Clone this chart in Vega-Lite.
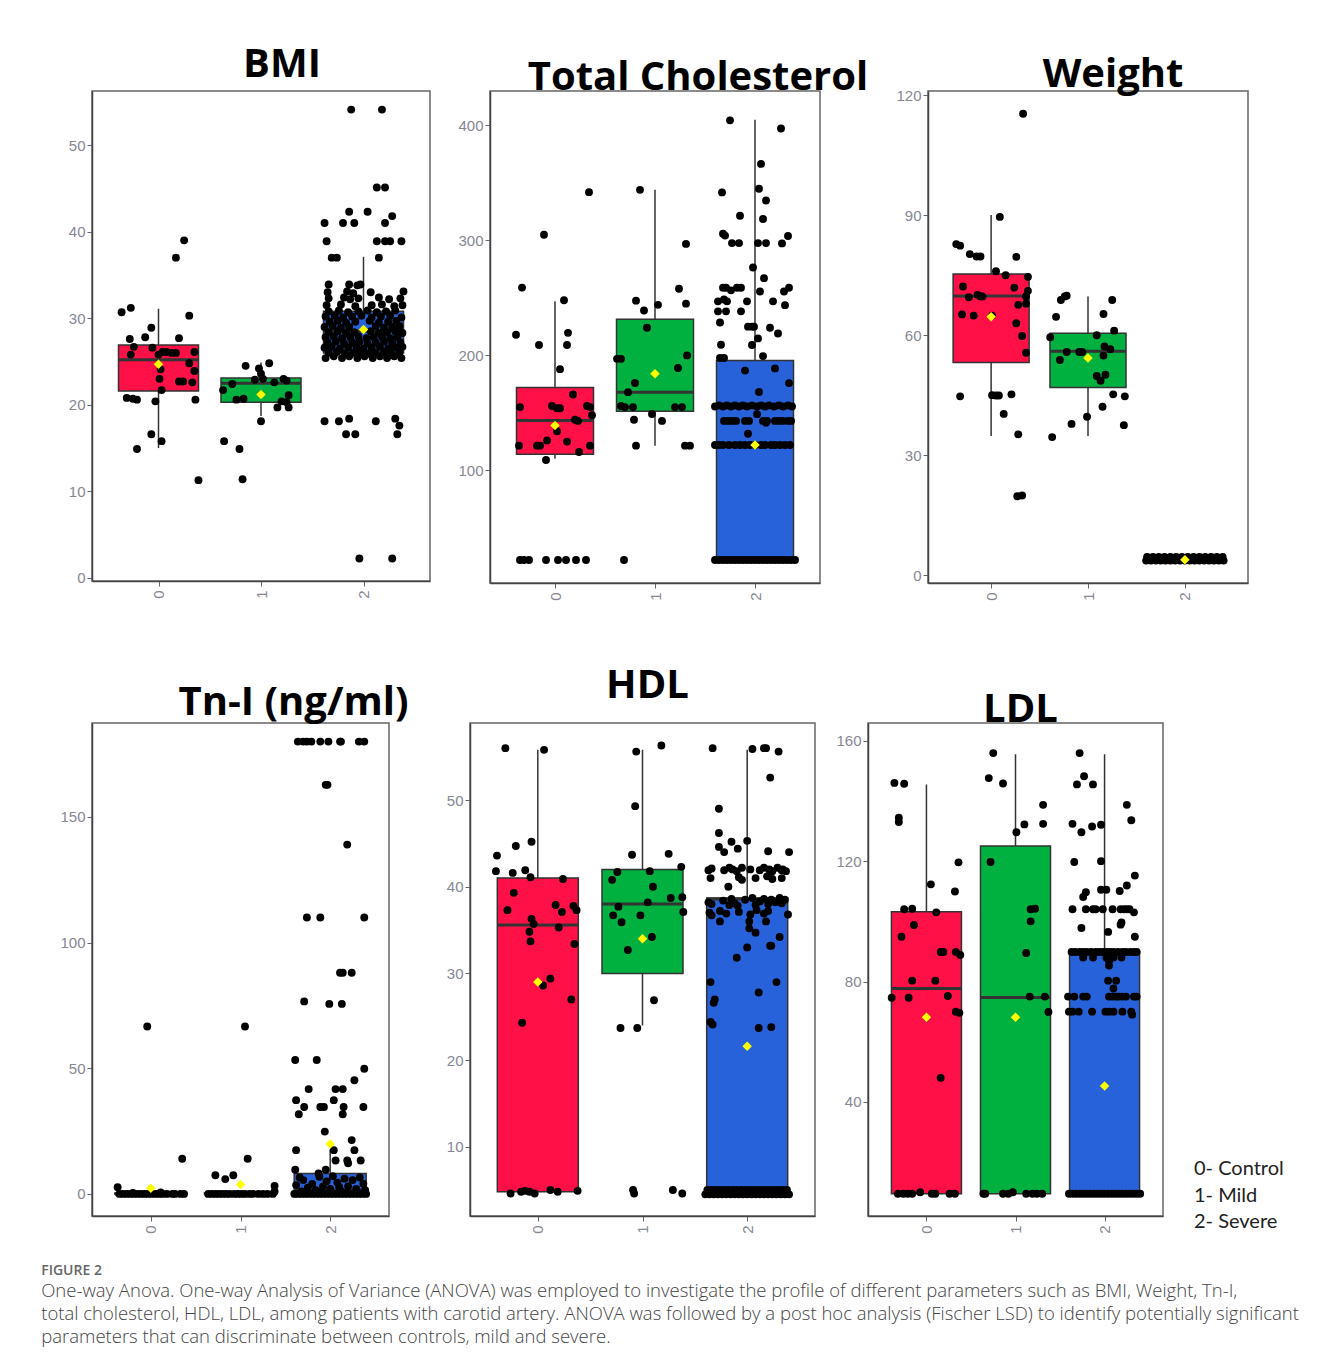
{
"$schema": "https://vega.github.io/schema/vega-lite/v6.json",
"background": "white",
"padding": {"left": 41, "top": 44, "right": 5, "bottom": 5},
"config": {
 "font": "Open Sans",
 "view": {"stroke": "#666", "strokeWidth": 1.5},
 "axis": {"grid": false, "labelFont": "Liberation Sans", "labelFontSize": 15, "labelColor": "#868792", "tickColor": "#666", "tickSize": 5, "domainColor": "#444", "domainWidth": 1.5, "labelPadding": 2},
 "axisX": {"labelAngle": -90, "labelPadding": 4, "format": "d"},
 "title": {"font": "Open Sans", "fontSize": 40, "fontWeight": "bold", "color": "#000", "anchor": "middle"}
},
"title": {"text": "FIGURE 2", "subtitle": ["One-way Anova. One-way Analysis of Variance (ANOVA) was employed to investigate the profile of different parameters such as BMI, Weight, Tn-I,", "total cholesterol, HDL, LDL, among patients with carotid artery. ANOVA was followed by a post hoc analysis (Fischer LSD) to identify potentially significant", "parameters that can discriminate between controls, mild and severe."], "orient": "bottom", "anchor": "start", "font": "Open Sans", "fontSize": 14, "fontWeight": 600, "color": "#666", "subtitleFont": "Open Sans", "subtitleFontSize": 18.5, "subtitleFontWeight": 300, "subtitleColor": "#444", "subtitleLineHeight": 23, "subtitlePadding": 4, "offset": 30, "dx": -18},
"datasets": {
 "bmiB": [{"g":0,"lo":15.0,"q1":21.6,"med":25.2,"q3":26.9,"hi":31.1,"m":24.7},{"g":1,"lo":18.7,"q1":20.3,"med":22.5,"q3":23.1,"hi":24.9,"m":21.2},{"g":2,"lo":25.4,"q1":26.0,"med":28.5,"q3":30.8,"hi":37.1,"m":28.7}],
 "bmiP": [
  {"x":-0.36,"v":30.7},{"x":-0.27,"v":31.2},{"x":-0.28,"v":27.6},{"x":-0.24,"v":26.7},{"x":-0.27,"v":25.8},{"x":-0.13,"v":27.8},{"x":-0.07,"v":28.9},{"x":-0.06,"v":26.6},{"x":0.0,"v":25.8},{"x":0.04,"v":26.1},{"x":0.08,"v":26.1},{"x":0.13,"v":26.0},{"x":0.17,"v":26.0},{"x":0.02,"v":24.1},{"x":0.01,"v":23.0},{"x":0.03,"v":21.7},{"x":0.3,"v":30.3},{"x":0.2,"v":27.7},{"x":0.35,"v":26.1},{"x":0.3,"v":24.8},{"x":0.35,"v":23.9},{"x":0.2,"v":22.7},{"x":0.24,"v":22.7},{"x":0.33,"v":22.6},{"x":-0.31,"v":20.8},{"x":-0.25,"v":20.7},{"x":-0.21,"v":20.6},{"x":-0.03,"v":20.4},{"x":0.36,"v":20.6},{"x":0.17,"v":37.0},{"x":0.25,"v":39.0},{"x":-0.07,"v":16.6},{"x":0.03,"v":15.8},{"x":-0.21,"v":14.9},{"x":0.39,"v":11.3},
  {"x":0.85,"v":24.5},{"x":0.98,"v":24.2},{"x":1.08,"v":24.8},{"x":1.0,"v":23.6},{"x":0.94,"v":22.9},{"x":1.02,"v":23.0},{"x":1.13,"v":22.6},{"x":1.22,"v":23.0},{"x":1.25,"v":22.8},{"x":0.72,"v":22.4},{"x":0.63,"v":21.7},{"x":1.27,"v":21.1},{"x":1.2,"v":20.4},{"x":1.25,"v":20.3},{"x":0.76,"v":20.6},{"x":0.83,"v":20.7},{"x":1.16,"v":19.7},{"x":1.27,"v":19.7},{"x":1.0,"v":18.1},{"x":0.64,"v":15.8},{"x":0.79,"v":14.9},{"x":0.82,"v":11.4},
  {"x":1.88,"v":54.1},{"x":2.18,"v":54.1},{"x":2.13,"v":45.1},{"x":2.21,"v":45.1},{"x":1.86,"v":42.3},{"x":2.04,"v":42.3},{"x":1.8,"v":41.0},{"x":1.91,"v":41.0},{"x":1.62,"v":41.0},{"x":2.21,"v":41.0},{"x":2.28,"v":41.8},{"x":1.64,"v":38.9},{"x":2.13,"v":38.9},{"x":2.21,"v":38.9},{"x":2.26,"v":38.9},{"x":2.37,"v":38.9},{"x":1.69,"v":37.0},{"x":1.74,"v":37.0},{"x":2.15,"v":37.0},{"x":1.62,"v":18.1},{"x":1.76,"v":18.1},{"x":1.86,"v":18.4},{"x":2.12,"v":18.1},{"x":2.31,"v":18.4},{"x":2.35,"v":17.6},{"x":1.83,"v":16.6},{"x":1.92,"v":16.6},{"x":2.33,"v":16.6},{"x":1.96,"v":2.25},{"x":2.28,"v":2.25},
  {"x":1.63,"v":25.4},{"x":1.71,"v":25.6},{"x":1.79,"v":25.4},{"x":1.86,"v":25.6},{"x":1.94,"v":25.4},{"x":2.01,"v":25.6},{"x":2.09,"v":25.4},{"x":2.16,"v":25.6},{"x":2.23,"v":25.4},{"x":2.3,"v":25.6},{"x":2.37,"v":25.4},
  {"x":1.66,"v":26.0},{"x":1.74,"v":26.1},{"x":1.82,"v":25.9},{"x":1.9,"v":26.0},{"x":1.97,"v":26.1},{"x":2.05,"v":25.9},{"x":2.12,"v":26.0},{"x":2.2,"v":26.1},{"x":2.27,"v":25.9},{"x":2.35,"v":26.0},
  {"x":1.62,"v":26.6},{"x":1.69,"v":26.7},{"x":1.77,"v":26.5},{"x":1.85,"v":26.6},{"x":1.93,"v":26.7},{"x":2.0,"v":26.5},{"x":2.08,"v":26.6},{"x":2.16,"v":26.7},{"x":2.24,"v":26.5},{"x":2.31,"v":26.6},{"x":2.38,"v":26.7},
  {"x":1.65,"v":27.2},{"x":1.73,"v":27.3},{"x":1.81,"v":27.1},{"x":1.89,"v":27.2},{"x":1.96,"v":27.3},{"x":2.04,"v":27.1},{"x":2.12,"v":27.2},{"x":2.2,"v":27.3},{"x":2.28,"v":27.1},{"x":2.36,"v":27.2},
  {"x":1.63,"v":27.8},{"x":1.71,"v":27.9},{"x":1.79,"v":27.7},{"x":1.87,"v":27.8},{"x":1.95,"v":27.9},{"x":2.03,"v":27.7},{"x":2.1,"v":27.8},{"x":2.18,"v":27.9},{"x":2.26,"v":27.7},{"x":2.33,"v":27.8},
  {"x":1.66,"v":28.4},{"x":1.75,"v":28.5},{"x":1.83,"v":28.3},{"x":1.91,"v":28.4},{"x":2.07,"v":28.5},{"x":2.15,"v":28.3},{"x":2.23,"v":28.4},{"x":2.31,"v":28.5},{"x":2.38,"v":28.3},
  {"x":1.62,"v":29.0},{"x":1.7,"v":29.1},{"x":1.78,"v":28.9},{"x":1.86,"v":29.0},{"x":2.12,"v":29.1},{"x":2.2,"v":28.9},{"x":2.28,"v":29.0},{"x":2.35,"v":29.1},
  {"x":1.67,"v":29.6},{"x":1.75,"v":29.7},{"x":1.83,"v":29.5},{"x":1.92,"v":29.6},{"x":2.06,"v":29.7},{"x":2.15,"v":29.5},{"x":2.24,"v":29.6},{"x":2.32,"v":29.7},
  {"x":1.63,"v":30.2},{"x":1.72,"v":30.3},{"x":1.8,"v":30.1},{"x":1.89,"v":30.2},{"x":1.98,"v":30.3},{"x":2.08,"v":30.1},{"x":2.17,"v":30.2},{"x":2.26,"v":30.3},{"x":2.37,"v":30.1},
  {"x":1.66,"v":30.8},{"x":1.76,"v":30.9},{"x":1.85,"v":30.7},{"x":1.95,"v":30.8},{"x":2.04,"v":30.9},{"x":2.13,"v":30.7},{"x":2.22,"v":30.8},{"x":2.31,"v":30.9},
  {"x":1.64,"v":31.5},{"x":1.78,"v":31.6},{"x":1.92,"v":31.4},{"x":2.08,"v":31.5},{"x":2.18,"v":31.6},{"x":2.3,"v":31.4},{"x":2.38,"v":31.5},
  {"x":1.66,"v":32.3},{"x":1.81,"v":32.4},{"x":1.87,"v":32.2},{"x":1.95,"v":32.3},{"x":2.15,"v":32.4},{"x":2.25,"v":32.2},{"x":2.36,"v":32.3},
  {"x":1.65,"v":33.0},{"x":1.84,"v":33.1},{"x":1.9,"v":32.9},{"x":2.07,"v":33.0},{"x":2.39,"v":33.1},
  {"x":1.66,"v":33.9},{"x":1.86,"v":33.9},{"x":1.94,"v":33.8},{"x":1.97,"v":33.9}
 ],
 "tcB": [{"g":0,"lo":110,"q1":114,"med":143.4,"q3":172,"hi":247,"m":139},{"g":1,"lo":121.5,"q1":151.4,"med":168,"q3":231.5,"hi":344,"m":184},{"g":2,"lo":22,"q1":22,"med":122,"q3":195.5,"hi":405,"m":122}],
 "tcP": [
  {"x":0.34,"v":342},{"x":-0.11,"v":305},{"x":-0.33,"v":259},{"x":0.09,"v":248},{"x":-0.39,"v":218},{"x":0.13,"v":219.6},{"x":-0.16,"v":209},{"x":0.12,"v":209},{"x":0.05,"v":188},{"x":0.18,"v":166},{"x":-0.35,"v":155},{"x":-0.03,"v":156},{"x":0.02,"v":154},{"x":0.05,"v":154},{"x":0.32,"v":156},{"x":0.35,"v":155},{"x":0.37,"v":148},{"x":0.2,"v":144},{"x":0.23,"v":143},{"x":0.02,"v":134},{"x":0.12,"v":125},{"x":-0.08,"v":126},{"x":-0.36,"v":121.5},{"x":-0.18,"v":121.5},{"x":-0.15,"v":121.5},{"x":0.35,"v":121.5},{"x":0.24,"v":116},{"x":-0.09,"v":109},
  {"x":-0.35,"v":22},{"x":-0.31,"v":22},{"x":-0.26,"v":22},{"x":-0.09,"v":22},{"x":0.03,"v":22},{"x":0.11,"v":22},{"x":0.21,"v":22},{"x":0.31,"v":22},
  {"x":0.85,"v":344},{"x":1.31,"v":297},{"x":1.24,"v":258},{"x":1.31,"v":245},{"x":0.81,"v":247.6},{"x":0.89,"v":239},{"x":1.03,"v":244},{"x":0.92,"v":224},{"x":1.32,"v":200},{"x":0.62,"v":197},{"x":0.66,"v":197},{"x":1.23,"v":189},{"x":0.8,"v":176},{"x":0.73,"v":168},{"x":0.66,"v":156},{"x":0.7,"v":155},{"x":0.78,"v":155},{"x":1.2,"v":155},{"x":1.27,"v":155},{"x":0.79,"v":144},{"x":0.97,"v":149},{"x":1.07,"v":143},{"x":0.81,"v":121.5},{"x":1.3,"v":121.5},{"x":1.35,"v":121.5},{"x":0.69,"v":22},
  {"x":1.75,"v":404.5},{"x":2.26,"v":397.4},{"x":2.06,"v":366.6},{"x":2.04,"v":345},{"x":1.67,"v":341.8},{"x":2.11,"v":334.7},{"x":1.85,"v":321.5},{"x":2.08,"v":318.6},{"x":1.68,"v":305.8},{"x":1.7,"v":304.2},{"x":2.33,"v":303.9},{"x":1.77,"v":297.7},{"x":1.84,"v":297.7},{"x":2.03,"v":297.7},{"x":2.11,"v":297.7},{"x":2.27,"v":297.4},{"x":1.98,"v":276.5},{"x":2.09,"v":267.2},{"x":1.68,"v":258.8},{"x":1.71,"v":258.8},{"x":1.76,"v":256.6},{"x":1.82,"v":258.8},{"x":1.86,"v":258.8},{"x":2.05,"v":255.6},{"x":2.29,"v":255.6},{"x":2.34,"v":258.8},{"x":1.63,"v":247},{"x":1.69,"v":248.6},{"x":1.72,"v":247},{"x":1.92,"v":247},{"x":2.18,"v":247},{"x":2.3,"v":243.7},{"x":1.63,"v":238.3},{"x":1.71,"v":238.3},{"x":1.86,"v":238.3},{"x":1.65,"v":228.6},{"x":1.93,"v":225},{"x":1.97,"v":225},{"x":1.99,"v":225},{"x":2.15,"v":224},{"x":2.23,"v":219},{"x":2.03,"v":214.8},{"x":1.66,"v":209.3},{"x":1.97,"v":209},{"x":2.08,"v":199.4},{"x":1.65,"v":197.7},{"x":1.69,"v":197.7},{"x":1.9,"v":186.8},{"x":2.2,"v":188.7},{"x":2.04,"v":168.2},{"x":2.34,"v":175.9},{"x":1.93,"v":131.8},{"x":2.11,"v":141.5},{"x":2.02,"v":148.9},
  {"x":1.6,"v":155.5},{"x":1.64,"v":156.5},{"x":1.68,"v":155.5},{"x":1.72,"v":156.5},{"x":1.76,"v":155.5},{"x":1.8,"v":156.5},{"x":1.84,"v":155.5},{"x":1.88,"v":156.5},{"x":1.92,"v":155.5},{"x":1.97,"v":156.5},{"x":2.02,"v":155.5},{"x":2.06,"v":156.5},{"x":2.1,"v":155.5},{"x":2.14,"v":156.5},{"x":2.19,"v":155.5},{"x":2.24,"v":156.5},{"x":2.28,"v":155.5},{"x":2.33,"v":156.5},{"x":2.37,"v":155.5},
  {"x":1.69,"v":143},{"x":1.73,"v":143},{"x":1.77,"v":143},{"x":1.81,"v":143},{"x":1.9,"v":143},{"x":1.94,"v":143},{"x":2.08,"v":143},{"x":2.12,"v":143},{"x":2.2,"v":143},{"x":2.24,"v":143},{"x":2.28,"v":143},{"x":2.33,"v":143},{"x":2.36,"v":143},
  {"x":1.6,"v":122},{"x":1.64,"v":122},{"x":1.68,"v":122},{"x":1.74,"v":122},{"x":1.8,"v":122},{"x":1.85,"v":122},{"x":1.9,"v":122},{"x":1.95,"v":122},{"x":2.0,"v":122},{"x":2.06,"v":122},{"x":2.1,"v":122},{"x":2.16,"v":122},{"x":2.2,"v":122},{"x":2.25,"v":122},{"x":2.3,"v":122},{"x":2.35,"v":122},
  {"x":1.6,"v":22},{"x":1.64,"v":22},{"x":1.68,"v":22},{"x":1.72,"v":22},{"x":1.76,"v":22},{"x":1.8,"v":22},{"x":1.84,"v":22},{"x":1.88,"v":22},{"x":1.92,"v":22},{"x":1.96,"v":22},{"x":2.0,"v":22},{"x":2.04,"v":22},{"x":2.08,"v":22},{"x":2.12,"v":22},{"x":2.16,"v":22},{"x":2.2,"v":22},{"x":2.24,"v":22},{"x":2.28,"v":22},{"x":2.32,"v":22},{"x":2.36,"v":22},{"x":2.4,"v":22}
 ],
 "wB": [{"g":0,"lo":34.8,"q1":53.2,"med":69.8,"q3":75.3,"hi":90.1,"m":64.6},{"g":1,"lo":34.8,"q1":46.9,"med":56.0,"q3":60.5,"hi":69.7,"m":54.3},{"g":2,"lo":3.4,"q1":3.7,"med":4.0,"q3":4.2,"hi":4.6,"m":3.8}],
 "wP": [
  {"x":0.33,"v":115.4},{"x":0.09,"v":89.6},{"x":-0.36,"v":82.8},{"x":-0.32,"v":82.4},{"x":-0.22,"v":80.3},{"x":-0.15,"v":79.7},{"x":-0.11,"v":79.7},{"x":0.26,"v":79.6},{"x":0.05,"v":76.0},{"x":0.15,"v":75.0},{"x":0.38,"v":74.6},{"x":0.38,"v":71.1},{"x":-0.29,"v":72.2},{"x":0.24,"v":71.9},{"x":-0.23,"v":69.5},{"x":-0.14,"v":70.1},{"x":-0.11,"v":69.7},{"x":-0.09,"v":69.7},{"x":0.36,"v":69.7},{"x":-0.3,"v":65.2},{"x":-0.18,"v":64.9},{"x":0.01,"v":64.9},{"x":0.28,"v":67.6},{"x":0.36,"v":67.9},{"x":0.26,"v":63.0},{"x":0.32,"v":59.8},{"x":0.36,"v":55.6},{"x":-0.32,"v":44.7},{"x":0.01,"v":45.0},{"x":0.05,"v":44.9},{"x":0.08,"v":44.9},{"x":0.21,"v":45.2},{"x":0.13,"v":40.3},{"x":0.28,"v":35.2},{"x":0.27,"v":19.7},{"x":0.32,"v":19.9},
  {"x":0.72,"v":68.8},{"x":0.76,"v":69.7},{"x":0.78,"v":69.9},{"x":1.25,"v":68.8},{"x":0.67,"v":64.6},{"x":1.16,"v":65.3},{"x":0.61,"v":59.5},{"x":1.09,"v":60.0},{"x":1.27,"v":61.1},{"x":0.71,"v":53.8},{"x":0.78,"v":55.8},{"x":0.91,"v":55.8},{"x":0.94,"v":55.8},{"x":1.17,"v":57.2},{"x":1.16,"v":54.9},{"x":1.23,"v":56.5},{"x":1.09,"v":49.8},{"x":1.13,"v":48.6},{"x":1.18,"v":50.1},{"x":1.26,"v":45.2},{"x":1.38,"v":44.7},{"x":1.15,"v":42.1},{"x":0.99,"v":39.6},{"x":0.83,"v":37.8},{"x":1.37,"v":37.5},{"x":0.63,"v":34.5},
  {"x":1.6,"v":3.6},{"x":1.65,"v":3.6},{"x":1.7,"v":3.6},{"x":1.75,"v":3.6},{"x":1.8,"v":3.6},{"x":1.85,"v":3.6},{"x":1.9,"v":3.6},{"x":1.95,"v":3.6},{"x":2.0,"v":3.6},{"x":2.05,"v":3.6},{"x":2.1,"v":3.6},{"x":2.15,"v":3.6},{"x":2.2,"v":3.6},{"x":2.25,"v":3.6},{"x":2.3,"v":3.6},{"x":2.35,"v":3.6},{"x":2.4,"v":3.6},
  {"x":1.62,"v":4.1},{"x":1.67,"v":4.1},{"x":1.72,"v":4.1},{"x":1.77,"v":4.1},{"x":1.82,"v":4.1},{"x":1.87,"v":4.1},{"x":1.92,"v":4.1},{"x":1.97,"v":4.1},{"x":2.02,"v":4.1},{"x":2.07,"v":4.1},{"x":2.12,"v":4.1},{"x":2.17,"v":4.1},{"x":2.22,"v":4.1},{"x":2.27,"v":4.1},{"x":2.32,"v":4.1},{"x":2.37,"v":4.1},
  {"x":1.61,"v":4.5},{"x":1.67,"v":4.5},{"x":1.73,"v":4.5},{"x":1.79,"v":4.5},{"x":1.85,"v":4.5},{"x":1.91,"v":4.5},{"x":1.97,"v":4.5},{"x":2.03,"v":4.5},{"x":2.09,"v":4.5},{"x":2.15,"v":4.5},{"x":2.21,"v":4.5},{"x":2.27,"v":4.5},{"x":2.33,"v":4.5},{"x":2.39,"v":4.5}
 ],
 "tB": [{"g":0,"lo":0,"q1":0,"med":0,"q3":0.4,"hi":0.8,"m":2.2},{"g":1,"lo":0,"q1":0,"med":0,"q3":0.5,"hi":1.0,"m":3.7},{"g":2,"lo":0,"q1":0,"med":1.5,"q3":8.1,"hi":17.7,"m":19.9}],
 "tP": [
  {"x":-0.04,"v":66.6},{"x":0.35,"v":14},{"x":-0.37,"v":2.65},{"x":-0.35,"v":0},{"x":-0.31,"v":0},{"x":-0.27,"v":0},{"x":-0.23,"v":0},{"x":-0.19,"v":0},{"x":-0.15,"v":0},{"x":-0.11,"v":0},{"x":-0.07,"v":0},{"x":-0.03,"v":0},{"x":0.01,"v":0},{"x":0.05,"v":0},{"x":0.09,"v":0},{"x":0.13,"v":0},{"x":0.18,"v":0},{"x":0.24,"v":0},{"x":0.27,"v":0},{"x":0.33,"v":0},{"x":0.37,"v":0},{"x":0.11,"v":0.6},{"x":-0.2,"v":0.4},
  {"x":1.05,"v":66.6},{"x":1.08,"v":14},{"x":0.72,"v":7.4},{"x":0.83,"v":5.9},{"x":0.92,"v":7.4},{"x":1.38,"v":3.2},{"x":0.64,"v":0},{"x":0.68,"v":0},{"x":0.72,"v":0},{"x":0.76,"v":0},{"x":0.8,"v":0},{"x":0.84,"v":0},{"x":0.88,"v":0},{"x":0.93,"v":0},{"x":0.97,"v":0},{"x":1.01,"v":0},{"x":1.05,"v":0},{"x":1.1,"v":0},{"x":1.14,"v":0},{"x":1.2,"v":0},{"x":1.25,"v":0},{"x":1.3,"v":0},{"x":1.36,"v":0},{"x":1.38,"v":1.0},
  {"x":1.64,"v":180},{"x":1.7,"v":180},{"x":1.74,"v":180},{"x":1.79,"v":180},{"x":1.89,"v":180},{"x":1.98,"v":180},{"x":2.11,"v":180},{"x":2.12,"v":180},{"x":2.32,"v":180},{"x":2.38,"v":180},
  {"x":1.95,"v":162.8},{"x":1.97,"v":162.8},{"x":2.19,"v":139},{"x":1.74,"v":110},{"x":1.89,"v":110},{"x":2.38,"v":110},{"x":2.11,"v":88},{"x":2.14,"v":88},{"x":2.24,"v":88},{"x":1.71,"v":76.6},{"x":1.99,"v":75.6},{"x":2.13,"v":75.6},{"x":1.61,"v":53.3},{"x":1.85,"v":53.3},{"x":2.38,"v":49.8},{"x":2.27,"v":45.2},{"x":1.76,"v":41.7},{"x":2.06,"v":41.7},{"x":2.14,"v":41.7},{"x":1.62,"v":37.3},{"x":2.04,"v":37.3},{"x":1.71,"v":34.6},{"x":1.89,"v":34.6},{"x":1.93,"v":34.6},{"x":2.15,"v":34.6},{"x":2.37,"v":34.6},{"x":1.65,"v":31.7},{"x":2.14,"v":31.7},{"x":1.94,"v":24.8},{"x":2.24,"v":21.4},{"x":1.62,"v":17.4},{"x":2.04,"v":17.4},{"x":2.27,"v":17.4},{"x":2.06,"v":13.3},{"x":2.19,"v":13.3},{"x":2.2,"v":12.2},{"x":2.34,"v":13.3},{"x":1.61,"v":9.6},{"x":1.95,"v":9.6},{"x":1.87,"v":8.1},
  {"x":1.62,"v":3.5},{"x":1.66,"v":6.5},{"x":1.7,"v":5.5},{"x":1.75,"v":2.5},{"x":1.8,"v":4.0},{"x":1.84,"v":1.5},{"x":1.88,"v":6.8},{"x":1.92,"v":3.0},{"x":1.96,"v":5.0},{"x":2.0,"v":2.0},{"x":2.03,"v":7.0},{"x":2.08,"v":4.5},{"x":2.12,"v":1.2},{"x":2.16,"v":6.0},{"x":2.2,"v":3.0},{"x":2.25,"v":5.5},{"x":2.29,"v":2.0},{"x":2.33,"v":6.5},{"x":2.37,"v":4.0},{"x":2.39,"v":1.5},{"x":1.68,"v":1.0},{"x":1.9,"v":0.8},{"x":2.1,"v":2.8},{"x":2.3,"v":0.8},
  {"x":1.6,"v":0},{"x":1.64,"v":0},{"x":1.68,"v":0},{"x":1.72,"v":0},{"x":1.76,"v":0},{"x":1.8,"v":0},{"x":1.84,"v":0},{"x":1.88,"v":0},{"x":1.92,"v":0},{"x":1.96,"v":0},{"x":2.0,"v":0},{"x":2.04,"v":0},{"x":2.08,"v":0},{"x":2.12,"v":0},{"x":2.16,"v":0},{"x":2.2,"v":0},{"x":2.24,"v":0},{"x":2.28,"v":0},{"x":2.32,"v":0},{"x":2.36,"v":0},{"x":2.4,"v":0}
 ],
 "hB": [{"g":0,"lo":4.8,"q1":4.8,"med":35.6,"q3":41.0,"hi":55.8,"m":29.0},{"g":1,"lo":24.0,"q1":30.0,"med":38.0,"q3":42.0,"hi":55.8,"m":34.0},{"g":2,"lo":4.8,"q1":4.8,"med":38.6,"q3":38.7,"hi":55.8,"m":21.6}],
 "hP": [
  {"x":-0.31,"v":56.0},{"x":0.06,"v":55.8},{"x":-0.39,"v":43.6},{"x":-0.21,"v":44.7},{"x":-0.06,"v":45.2},{"x":-0.4,"v":41.8},{"x":-0.24,"v":41.6},{"x":-0.12,"v":41.9},{"x":-0.07,"v":41.1},{"x":0.24,"v":40.9},{"x":-0.23,"v":39.3},{"x":-0.29,"v":37.3},{"x":-0.06,"v":36.3},{"x":-0.04,"v":35.7},{"x":-0.08,"v":34.8},{"x":-0.07,"v":33.7},{"x":0.17,"v":37.9},{"x":0.23,"v":37.1},{"x":0.2,"v":35.3},{"x":0.34,"v":37.8},{"x":0.37,"v":37.3},{"x":0.35,"v":33.4},{"x":0.12,"v":29.4},{"x":0.05,"v":28.6},{"x":0.32,"v":27.0},{"x":-0.15,"v":24.3},
  {"x":-0.26,"v":4.6},{"x":-0.16,"v":4.8},{"x":-0.12,"v":4.9},{"x":-0.08,"v":4.8},{"x":-0.03,"v":4.6},{"x":0.12,"v":5.0},{"x":0.19,"v":4.8},{"x":0.38,"v":4.9},
  {"x":1.18,"v":56.3},{"x":0.94,"v":55.6},{"x":0.93,"v":49.3},{"x":0.9,"v":43.7},{"x":1.25,"v":43.8},{"x":0.76,"v":41.7},{"x":0.71,"v":40.8},{"x":1.07,"v":41.8},{"x":1.37,"v":42.3},{"x":1.1,"v":40.0},{"x":1.27,"v":38.7},{"x":1.38,"v":38.8},{"x":0.77,"v":37.7},{"x":1.05,"v":38.2},{"x":1.39,"v":37.1},{"x":0.72,"v":36.7},{"x":0.8,"v":35.9},{"x":0.98,"v":36.7},{"x":1.09,"v":34.2},{"x":0.86,"v":32.7},{"x":1.11,"v":26.9},{"x":0.79,"v":23.7},{"x":0.95,"v":23.7},{"x":0.91,"v":5.0},{"x":0.92,"v":4.6},{"x":1.29,"v":5.0},{"x":1.38,"v":4.6},
  {"x":1.67,"v":56.0},{"x":2.05,"v":55.9},{"x":2.16,"v":56.0},{"x":2.18,"v":56.0},{"x":2.3,"v":55.6},{"x":2.22,"v":52.6},{"x":1.73,"v":49.0},{"x":1.73,"v":46.2},{"x":1.73,"v":44.6},{"x":1.78,"v":44.0},{"x":1.85,"v":45.2},{"x":1.91,"v":44.4},{"x":2.0,"v":45.3},{"x":2.2,"v":44.1},{"x":2.4,"v":44.0},
  {"x":1.63,"v":41.9},{"x":1.66,"v":42.1},{"x":1.78,"v":41.9},{"x":1.83,"v":42.2},{"x":1.86,"v":42.0},{"x":1.9,"v":41.8},{"x":1.95,"v":42.2},{"x":2.03,"v":42.0},{"x":2.12,"v":41.9},{"x":2.16,"v":42.2},{"x":2.21,"v":42.0},{"x":2.24,"v":41.8},{"x":2.29,"v":42.2},{"x":2.33,"v":41.9},{"x":2.34,"v":42.0},{"x":2.37,"v":41.8},
  {"x":1.65,"v":41.0},{"x":1.92,"v":41.1},{"x":1.95,"v":40.8},{"x":2.08,"v":41.0},{"x":2.19,"v":41.2},{"x":2.24,"v":40.9},{"x":2.33,"v":41.0},{"x":1.82,"v":40.0},
  {"x":1.63,"v":38.2},{"x":1.66,"v":38.0},{"x":1.77,"v":38.4},{"x":1.83,"v":37.9},{"x":1.85,"v":38.6},{"x":1.88,"v":38.1},{"x":1.91,"v":37.8},{"x":1.98,"v":38.5},{"x":2.05,"v":38.7},{"x":2.08,"v":37.9},{"x":2.12,"v":38.3},{"x":2.16,"v":38.6},{"x":2.2,"v":38.0},{"x":2.23,"v":38.5},{"x":2.27,"v":38.2},{"x":2.31,"v":38.7},{"x":2.33,"v":38.1},{"x":2.36,"v":38.5},
  {"x":1.64,"v":37.0},{"x":1.66,"v":36.7},{"x":1.74,"v":37.2},{"x":1.8,"v":36.9},{"x":1.92,"v":37.1},{"x":2.03,"v":36.8},{"x":2.09,"v":37.3},{"x":2.16,"v":36.9},{"x":2.2,"v":37.2},{"x":2.39,"v":36.8},
  {"x":1.74,"v":36.0},{"x":2.02,"v":36.0},{"x":2.18,"v":36.0},{"x":2.02,"v":35.2},{"x":2.08,"v":34.7},{"x":2.31,"v":34.2},{"x":2.22,"v":33.2},{"x":2.23,"v":33.2},{"x":2.0,"v":33.0},{"x":1.9,"v":31.8},{"x":1.65,"v":29.0},{"x":2.28,"v":29.0},{"x":2.11,"v":27.8},{"x":1.69,"v":27.0},{"x":1.68,"v":26.6},{"x":1.65,"v":24.4},{"x":1.67,"v":24.1},{"x":2.11,"v":23.7},{"x":2.23,"v":23.8},
  {"x":1.6,"v":4.5},{"x":1.64,"v":4.5},{"x":1.68,"v":4.5},{"x":1.72,"v":4.5},{"x":1.76,"v":4.5},{"x":1.8,"v":4.5},{"x":1.84,"v":4.5},{"x":1.88,"v":4.5},{"x":1.92,"v":4.5},{"x":1.96,"v":4.5},{"x":2.0,"v":4.5},{"x":2.04,"v":4.5},{"x":2.08,"v":4.5},{"x":2.12,"v":4.5},{"x":2.16,"v":4.5},{"x":2.2,"v":4.5},{"x":2.24,"v":4.5},{"x":2.28,"v":4.5},{"x":2.32,"v":4.5},{"x":2.36,"v":4.5},{"x":2.4,"v":4.5},
  {"x":1.62,"v":5.0},{"x":1.66,"v":5.0},{"x":1.7,"v":5.0},{"x":1.74,"v":5.0},{"x":1.78,"v":5.0},{"x":1.82,"v":5.0},{"x":1.86,"v":5.0},{"x":1.9,"v":5.0},{"x":1.94,"v":5.0},{"x":1.98,"v":5.0},{"x":2.02,"v":5.0},{"x":2.06,"v":5.0},{"x":2.1,"v":5.0},{"x":2.14,"v":5.0},{"x":2.18,"v":5.0},{"x":2.22,"v":5.0},{"x":2.26,"v":5.0},{"x":2.3,"v":5.0},{"x":2.34,"v":5.0},{"x":2.38,"v":5.0}
 ],
 "lB": [{"g":0,"lo":9.5,"q1":9.5,"med":77.7,"q3":103.2,"hi":145.5,"m":68.1},{"g":1,"lo":9.5,"q1":9.5,"med":74.7,"q3":125,"hi":155.5,"m":68.1},{"g":2,"lo":9.5,"q1":9.5,"med":89.5,"q3":89.8,"hi":155.5,"m":45.3}],
 "lP": [
  {"x":-0.36,"v":146},{"x":-0.25,"v":145.7},{"x":-0.31,"v":134.4},{"x":-0.31,"v":133},{"x":0.36,"v":119.6},{"x":0.05,"v":112.3},{"x":0.32,"v":109.9},{"x":-0.25,"v":104},{"x":-0.16,"v":104.2},{"x":0.11,"v":103},{"x":-0.14,"v":98.8},{"x":-0.28,"v":94.9},{"x":0.16,"v":89.8},{"x":0.19,"v":89.8},{"x":0.33,"v":89.8},{"x":0.38,"v":88.8},{"x":-0.16,"v":80.3},{"x":0.1,"v":80.3},{"x":-0.39,"v":74.6},{"x":-0.2,"v":74.6},{"x":0.24,"v":75.2},{"x":0.33,"v":70},{"x":0.37,"v":69.6},{"x":0.16,"v":48},
  {"x":-0.32,"v":9.5},{"x":-0.26,"v":9.5},{"x":-0.21,"v":9.5},{"x":-0.16,"v":9.5},{"x":-0.07,"v":10},{"x":0.06,"v":9.5},{"x":0.1,"v":9.5},{"x":0.26,"v":9.5},{"x":0.32,"v":9.5},
  {"x":0.75,"v":155.9},{"x":0.7,"v":147.6},{"x":0.86,"v":145.8},{"x":1.31,"v":138.7},{"x":1.1,"v":132.2},{"x":1.31,"v":132.4},{"x":1.01,"v":129.6},{"x":0.72,"v":119.7},{"x":1.17,"v":104},{"x":1.22,"v":104.2},{"x":1.17,"v":100},{"x":1.12,"v":89.5},{"x":1.16,"v":75},{"x":1.33,"v":75},{"x":1.37,"v":69.9},
  {"x":0.64,"v":9.5},{"x":0.66,"v":9.5},{"x":0.86,"v":9.5},{"x":0.92,"v":9.5},{"x":0.97,"v":10},{"x":1.12,"v":9.5},{"x":1.19,"v":9.5},{"x":1.24,"v":9.5},{"x":1.3,"v":9.5},
  {"x":1.72,"v":155.9},{"x":1.77,"v":148.2},{"x":1.69,"v":145.5},{"x":1.87,"v":145.5},{"x":2.25,"v":138.7},{"x":2.3,"v":133.6},{"x":1.64,"v":132.4},{"x":1.86,"v":131.5},{"x":1.96,"v":132.1},{"x":1.74,"v":129.6},{"x":1.66,"v":119.7},{"x":1.96,"v":120},{"x":2.34,"v":115.2},{"x":2.25,"v":111.9},{"x":2.17,"v":110.1},{"x":1.96,"v":110.5},{"x":2.02,"v":110.5},{"x":1.76,"v":108.1},{"x":1.79,"v":109.7},
  {"x":1.64,"v":104},{"x":1.79,"v":104},{"x":1.87,"v":104},{"x":1.9,"v":104},{"x":1.98,"v":104},{"x":2.09,"v":104},{"x":2.18,"v":104},{"x":2.22,"v":104},{"x":2.25,"v":104},{"x":2.28,"v":104},{"x":2.33,"v":103},
  {"x":2.18,"v":98.9},{"x":2.19,"v":99.6},{"x":1.74,"v":97.8},{"x":2.04,"v":96.5},{"x":2.34,"v":94.9},
  {"x":1.63,"v":89.8},{"x":1.67,"v":89.8},{"x":1.72,"v":89.8},{"x":1.76,"v":89.8},{"x":1.8,"v":89.8},{"x":1.85,"v":89.8},{"x":1.9,"v":89.8},{"x":1.94,"v":89.8},{"x":1.98,"v":89.8},{"x":2.02,"v":89.8},{"x":2.06,"v":89.8},{"x":2.1,"v":89.8},{"x":2.15,"v":89.8},{"x":2.2,"v":89.8},{"x":2.24,"v":89.8},{"x":2.29,"v":89.8},{"x":2.33,"v":89.8},{"x":2.36,"v":89.8},
  {"x":1.76,"v":88},{"x":1.87,"v":88},{"x":2.02,"v":88},{"x":2.1,"v":88},{"x":2.19,"v":88},{"x":2.05,"v":86.8},{"x":2.05,"v":85.3},{"x":2.04,"v":80.3},{"x":2.13,"v":80.3},{"x":2.1,"v":77.7},
  {"x":1.59,"v":75},{"x":1.66,"v":75},{"x":1.76,"v":75},{"x":1.8,"v":75},{"x":2.05,"v":75},{"x":2.09,"v":75},{"x":2.13,"v":75},{"x":2.16,"v":75},{"x":2.2,"v":75},{"x":2.24,"v":75},{"x":2.33,"v":75},{"x":2.36,"v":75},
  {"x":1.6,"v":70},{"x":1.64,"v":70},{"x":1.71,"v":70},{"x":1.86,"v":70},{"x":2.01,"v":70},{"x":2.05,"v":70},{"x":2.1,"v":70},{"x":2.2,"v":70},{"x":2.3,"v":70},{"x":2.31,"v":69},
  {"x":1.6,"v":9.5},{"x":1.64,"v":9.5},{"x":1.68,"v":9.5},{"x":1.72,"v":9.5},{"x":1.76,"v":9.5},{"x":1.8,"v":9.5},{"x":1.84,"v":9.5},{"x":1.88,"v":9.5},{"x":1.92,"v":9.5},{"x":1.96,"v":9.5},{"x":2.0,"v":9.5},{"x":2.04,"v":9.5},{"x":2.08,"v":9.5},{"x":2.12,"v":9.5},{"x":2.16,"v":9.5},{"x":2.2,"v":9.5},{"x":2.24,"v":9.5},{"x":2.28,"v":9.5},{"x":2.32,"v":9.5},{"x":2.36,"v":9.5},{"x":2.4,"v":9.5}
 ],
 "legendRows": [{"row":1,"t":"0- Control"},{"row":2,"t":"1- Mild"},{"row":3,"t":"2- Severe"}]
},
"spacing": 63,
"vconcat": [
 {"spacing": 26, "hconcat": [
  {"width": 338, "height": 490, "title": {"text": "BMI", "dx": 21, "offset": 6},
   "layer": [
    {"data": {"name": "bmiB"}, "mark": {"type": "rule", "color": "#333", "strokeWidth": 1.5},
     "encoding": {"x": {"field": "g", "type": "quantitative", "title": null, "scale": {"domain": [-0.6, 2.6], "nice": false, "zero": false}, "axis": {"values": [0, 1, 2]}},
      "y": {"field": "lo", "type": "quantitative", "title": null, "scale": {"domain": [-0.35, 56.25], "nice": false, "zero": false}, "axis": {"values": [0, 10, 20, 30, 40, 50]}},
      "y2": {"field": "hi"}}},
    {"data": {"name": "bmiB"}, "mark": {"type": "bar", "size": 80, "stroke": "#333", "strokeWidth": 1.5},
     "encoding": {"x": {"field": "g", "type": "quantitative", "title": null}, "y": {"field": "q1", "type": "quantitative", "title": null}, "y2": {"field": "q3"},
      "fill": {"field": "g", "type": "nominal", "scale": {"domain": [0, 1, 2], "range": ["#FF1046", "#00B140", "#2862DA"]}, "legend": null}}},
    {"data": {"name": "bmiB"}, "mark": {"type": "tick", "orient": "horizontal", "size": 80, "thickness": 3, "color": "#333", "opacity": 1},
     "encoding": {"x": {"field": "g", "type": "quantitative", "title": null}, "y": {"field": "med", "type": "quantitative", "title": null}}},
    {"data": {"name": "bmiP"}, "mark": {"type": "circle", "size": 62, "color": "#000", "opacity": 1},
     "encoding": {"x": {"field": "x", "type": "quantitative", "title": null}, "y": {"field": "v", "type": "quantitative", "title": null}}},
    {"data": {"name": "bmiB"}, "mark": {"type": "point", "shape": "diamond", "filled": true, "color": "#FFFF00", "size": 90, "opacity": 1},
     "encoding": {"x": {"field": "g", "type": "quantitative", "title": null}, "y": {"field": "m", "type": "quantitative", "title": null}}}
   ]},
  {"width": 330, "height": 492, "title": {"text": "Total Cholesterol", "dx": 43, "offset": -7},
   "layer": [
    {"data": {"name": "tcB"}, "mark": {"type": "rule", "color": "#333", "strokeWidth": 1.5},
     "encoding": {"x": {"field": "g", "type": "quantitative", "title": null, "scale": {"domain": [-0.6, 2.6], "nice": false, "zero": false}, "axis": {"values": [0, 1, 2]}},
      "y": {"field": "lo", "type": "quantitative", "title": null, "scale": {"domain": [2, 430], "nice": false, "zero": false}, "axis": {"values": [100, 200, 300, 400]}},
      "y2": {"field": "hi"}}},
    {"data": {"name": "tcB"}, "mark": {"type": "bar", "size": 77, "stroke": "#333", "strokeWidth": 1.5},
     "encoding": {"x": {"field": "g", "type": "quantitative", "title": null}, "y": {"field": "q1", "type": "quantitative", "title": null}, "y2": {"field": "q3"},
      "fill": {"field": "g", "type": "nominal", "scale": {"domain": [0, 1, 2], "range": ["#FF1046", "#00B140", "#2862DA"]}, "legend": null}}},
    {"data": {"name": "tcB"}, "mark": {"type": "tick", "orient": "horizontal", "size": 77, "thickness": 3, "color": "#333", "opacity": 1},
     "encoding": {"x": {"field": "g", "type": "quantitative", "title": null}, "y": {"field": "med", "type": "quantitative", "title": null}}},
    {"data": {"name": "tcP"}, "mark": {"type": "circle", "size": 62, "color": "#000", "opacity": 1},
     "encoding": {"x": {"field": "x", "type": "quantitative", "title": null}, "y": {"field": "v", "type": "quantitative", "title": null}}},
    {"data": {"name": "tcB"}, "mark": {"type": "point", "shape": "diamond", "filled": true, "color": "#FFFF00", "size": 90, "opacity": 1},
     "encoding": {"x": {"field": "g", "type": "quantitative", "title": null}, "y": {"field": "m", "type": "quantitative", "title": null}}}
   ]},
  {"width": 320, "height": 492, "title": {"text": "Weight", "dx": 25, "offset": -7},
   "layer": [
    {"data": {"name": "wB"}, "mark": {"type": "rule", "color": "#333", "strokeWidth": 1.5},
     "encoding": {"x": {"field": "g", "type": "quantitative", "title": null, "scale": {"domain": [-0.6, 2.6], "nice": false, "zero": false}, "axis": {"values": [0, 1, 2]}},
      "y": {"field": "lo", "type": "quantitative", "title": null, "scale": {"domain": [-2, 121.1], "nice": false, "zero": false}, "axis": {"values": [0, 30, 60, 90, 120]}},
      "y2": {"field": "hi"}}},
    {"data": {"name": "wB"}, "mark": {"type": "bar", "size": 76, "stroke": "#333", "strokeWidth": 1.5},
     "encoding": {"x": {"field": "g", "type": "quantitative", "title": null}, "y": {"field": "q1", "type": "quantitative", "title": null}, "y2": {"field": "q3"},
      "fill": {"field": "g", "type": "nominal", "scale": {"domain": [0, 1, 2], "range": ["#FF1046", "#00B140", "#2862DA"]}, "legend": null}}},
    {"data": {"name": "wB"}, "mark": {"type": "tick", "orient": "horizontal", "size": 76, "thickness": 3, "color": "#333", "opacity": 1},
     "encoding": {"x": {"field": "g", "type": "quantitative", "title": null}, "y": {"field": "med", "type": "quantitative", "title": null}}},
    {"data": {"name": "wP"}, "mark": {"type": "circle", "size": 62, "color": "#000", "opacity": 1},
     "encoding": {"x": {"field": "x", "type": "quantitative", "title": null}, "y": {"field": "v", "type": "quantitative", "title": null}}},
    {"data": {"name": "wB"}, "mark": {"type": "point", "shape": "diamond", "filled": true, "color": "#FFFF00", "size": 90, "opacity": 1},
     "encoding": {"x": {"field": "g", "type": "quantitative", "title": null}, "y": {"field": "m", "type": "quantitative", "title": null}}}
   ]}
 ]},
 {"spacing": 19, "hconcat": [
  {"width": 297, "height": 493, "title": {"text": "Tn-I (ng/ml)", "dx": 53, "offset": 0},
   "layer": [
    {"data": {"name": "tB"}, "mark": {"type": "rule", "color": "#333", "strokeWidth": 1.5},
     "encoding": {"x": {"field": "g", "type": "quantitative", "title": null, "scale": {"domain": [-0.6, 2.6], "nice": false, "zero": false}, "axis": {"values": [0, 1, 2]}},
      "y": {"field": "lo", "type": "quantitative", "title": null, "scale": {"domain": [-8.8, 187.4], "nice": false, "zero": false}, "axis": {"values": [0, 50, 100, 150]}},
      "y2": {"field": "hi"}}},
    {"data": {"name": "tB"}, "mark": {"type": "bar", "size": 72, "stroke": "#333", "strokeWidth": 1.5},
     "encoding": {"x": {"field": "g", "type": "quantitative", "title": null}, "y": {"field": "q1", "type": "quantitative", "title": null}, "y2": {"field": "q3"},
      "fill": {"field": "g", "type": "nominal", "scale": {"domain": [0, 1, 2], "range": ["#FF1046", "#00B140", "#2862DA"]}, "legend": null}}},
    {"data": {"name": "tB"}, "mark": {"type": "tick", "orient": "horizontal", "size": 72, "thickness": 3, "color": "#333", "opacity": 1},
     "encoding": {"x": {"field": "g", "type": "quantitative", "title": null}, "y": {"field": "med", "type": "quantitative", "title": null}}},
    {"data": {"name": "tP"}, "mark": {"type": "circle", "size": 62, "color": "#000", "opacity": 1},
     "encoding": {"x": {"field": "x", "type": "quantitative", "title": null}, "y": {"field": "v", "type": "quantitative", "title": null}}},
    {"data": {"name": "tB"}, "mark": {"type": "point", "shape": "diamond", "filled": true, "color": "#FFFF00", "size": 90, "opacity": 1},
     "encoding": {"x": {"field": "g", "type": "quantitative", "title": null}, "y": {"field": "m", "type": "quantitative", "title": null}}}
   ]},
  {"width": 345, "height": 493, "title": {"text": "HDL", "dx": 5, "offset": 17},
   "layer": [
    {"data": {"name": "hB"}, "mark": {"type": "rule", "color": "#333", "strokeWidth": 1.5},
     "encoding": {"x": {"field": "g", "type": "quantitative", "title": null, "scale": {"domain": [-0.6, 2.6], "nice": false, "zero": false}, "axis": {"values": [0, 1, 2]}},
      "y": {"field": "lo", "type": "quantitative", "title": null, "scale": {"domain": [2, 58.9], "nice": false, "zero": false}, "axis": {"values": [10, 20, 30, 40, 50], "minExtent": 40}},
      "y2": {"field": "hi"}}},
    {"data": {"name": "hB"}, "mark": {"type": "bar", "size": 81, "stroke": "#333", "strokeWidth": 1.5},
     "encoding": {"x": {"field": "g", "type": "quantitative", "title": null}, "y": {"field": "q1", "type": "quantitative", "title": null}, "y2": {"field": "q3"},
      "fill": {"field": "g", "type": "nominal", "scale": {"domain": [0, 1, 2], "range": ["#FF1046", "#00B140", "#2862DA"]}, "legend": null}}},
    {"data": {"name": "hB"}, "mark": {"type": "tick", "orient": "horizontal", "size": 81, "thickness": 3, "color": "#333", "opacity": 1},
     "encoding": {"x": {"field": "g", "type": "quantitative", "title": null}, "y": {"field": "med", "type": "quantitative", "title": null}}},
    {"data": {"name": "hP"}, "mark": {"type": "circle", "size": 62, "color": "#000", "opacity": 1},
     "encoding": {"x": {"field": "x", "type": "quantitative", "title": null}, "y": {"field": "v", "type": "quantitative", "title": null}}},
    {"data": {"name": "hB"}, "mark": {"type": "point", "shape": "diamond", "filled": true, "color": "#FFFF00", "size": 90, "opacity": 1},
     "encoding": {"x": {"field": "g", "type": "quantitative", "title": null}, "y": {"field": "m", "type": "quantitative", "title": null}}}
   ]},
  {"width": 295, "height": 493, "title": {"text": "LDL", "dx": 5, "offset": -7},
   "layer": [
    {"data": {"name": "lB"}, "mark": {"type": "rule", "color": "#333", "strokeWidth": 1.5},
     "encoding": {"x": {"field": "g", "type": "quantitative", "title": null, "scale": {"domain": [-0.6, 2.6], "nice": false, "zero": false}, "axis": {"values": [0, 1, 2]}},
      "y": {"field": "lo", "type": "quantitative", "title": null, "scale": {"domain": [2.1, 165.9], "nice": false, "zero": false}, "axis": {"values": [40, 80, 120, 160]}},
      "y2": {"field": "hi"}}},
    {"data": {"name": "lB"}, "mark": {"type": "bar", "size": 70, "stroke": "#333", "strokeWidth": 1.5},
     "encoding": {"x": {"field": "g", "type": "quantitative", "title": null}, "y": {"field": "q1", "type": "quantitative", "title": null}, "y2": {"field": "q3"},
      "fill": {"field": "g", "type": "nominal", "scale": {"domain": [0, 1, 2], "range": ["#FF1046", "#00B140", "#2862DA"]}, "legend": null}}},
    {"data": {"name": "lB"}, "mark": {"type": "tick", "orient": "horizontal", "size": 70, "thickness": 3, "color": "#333", "opacity": 1},
     "encoding": {"x": {"field": "g", "type": "quantitative", "title": null}, "y": {"field": "med", "type": "quantitative", "title": null}}},
    {"data": {"name": "lP"}, "mark": {"type": "circle", "size": 62, "color": "#000", "opacity": 1},
     "encoding": {"x": {"field": "x", "type": "quantitative", "title": null}, "y": {"field": "v", "type": "quantitative", "title": null}}},
    {"data": {"name": "lB"}, "mark": {"type": "point", "shape": "diamond", "filled": true, "color": "#FFFF00", "size": 90, "opacity": 1},
     "encoding": {"x": {"field": "g", "type": "quantitative", "title": null}, "y": {"field": "m", "type": "quantitative", "title": null}}}
   ]},
  {"width": 90, "height": 493, "view": {"stroke": null}, "data": {"name": "legendRows"},
   "mark": {"type": "text", "align": "left", "baseline": "middle", "font": "Lato", "fontSize": 20, "color": "#222", "dx": 11},
   "encoding": {"x": {"value": 0}, "y": {"field": "row", "type": "ordinal", "axis": null, "scale": {"type": "point", "padding": 0, "range": [446, 499]}}, "text": {"field": "t"}}}
 ]}
]
}
